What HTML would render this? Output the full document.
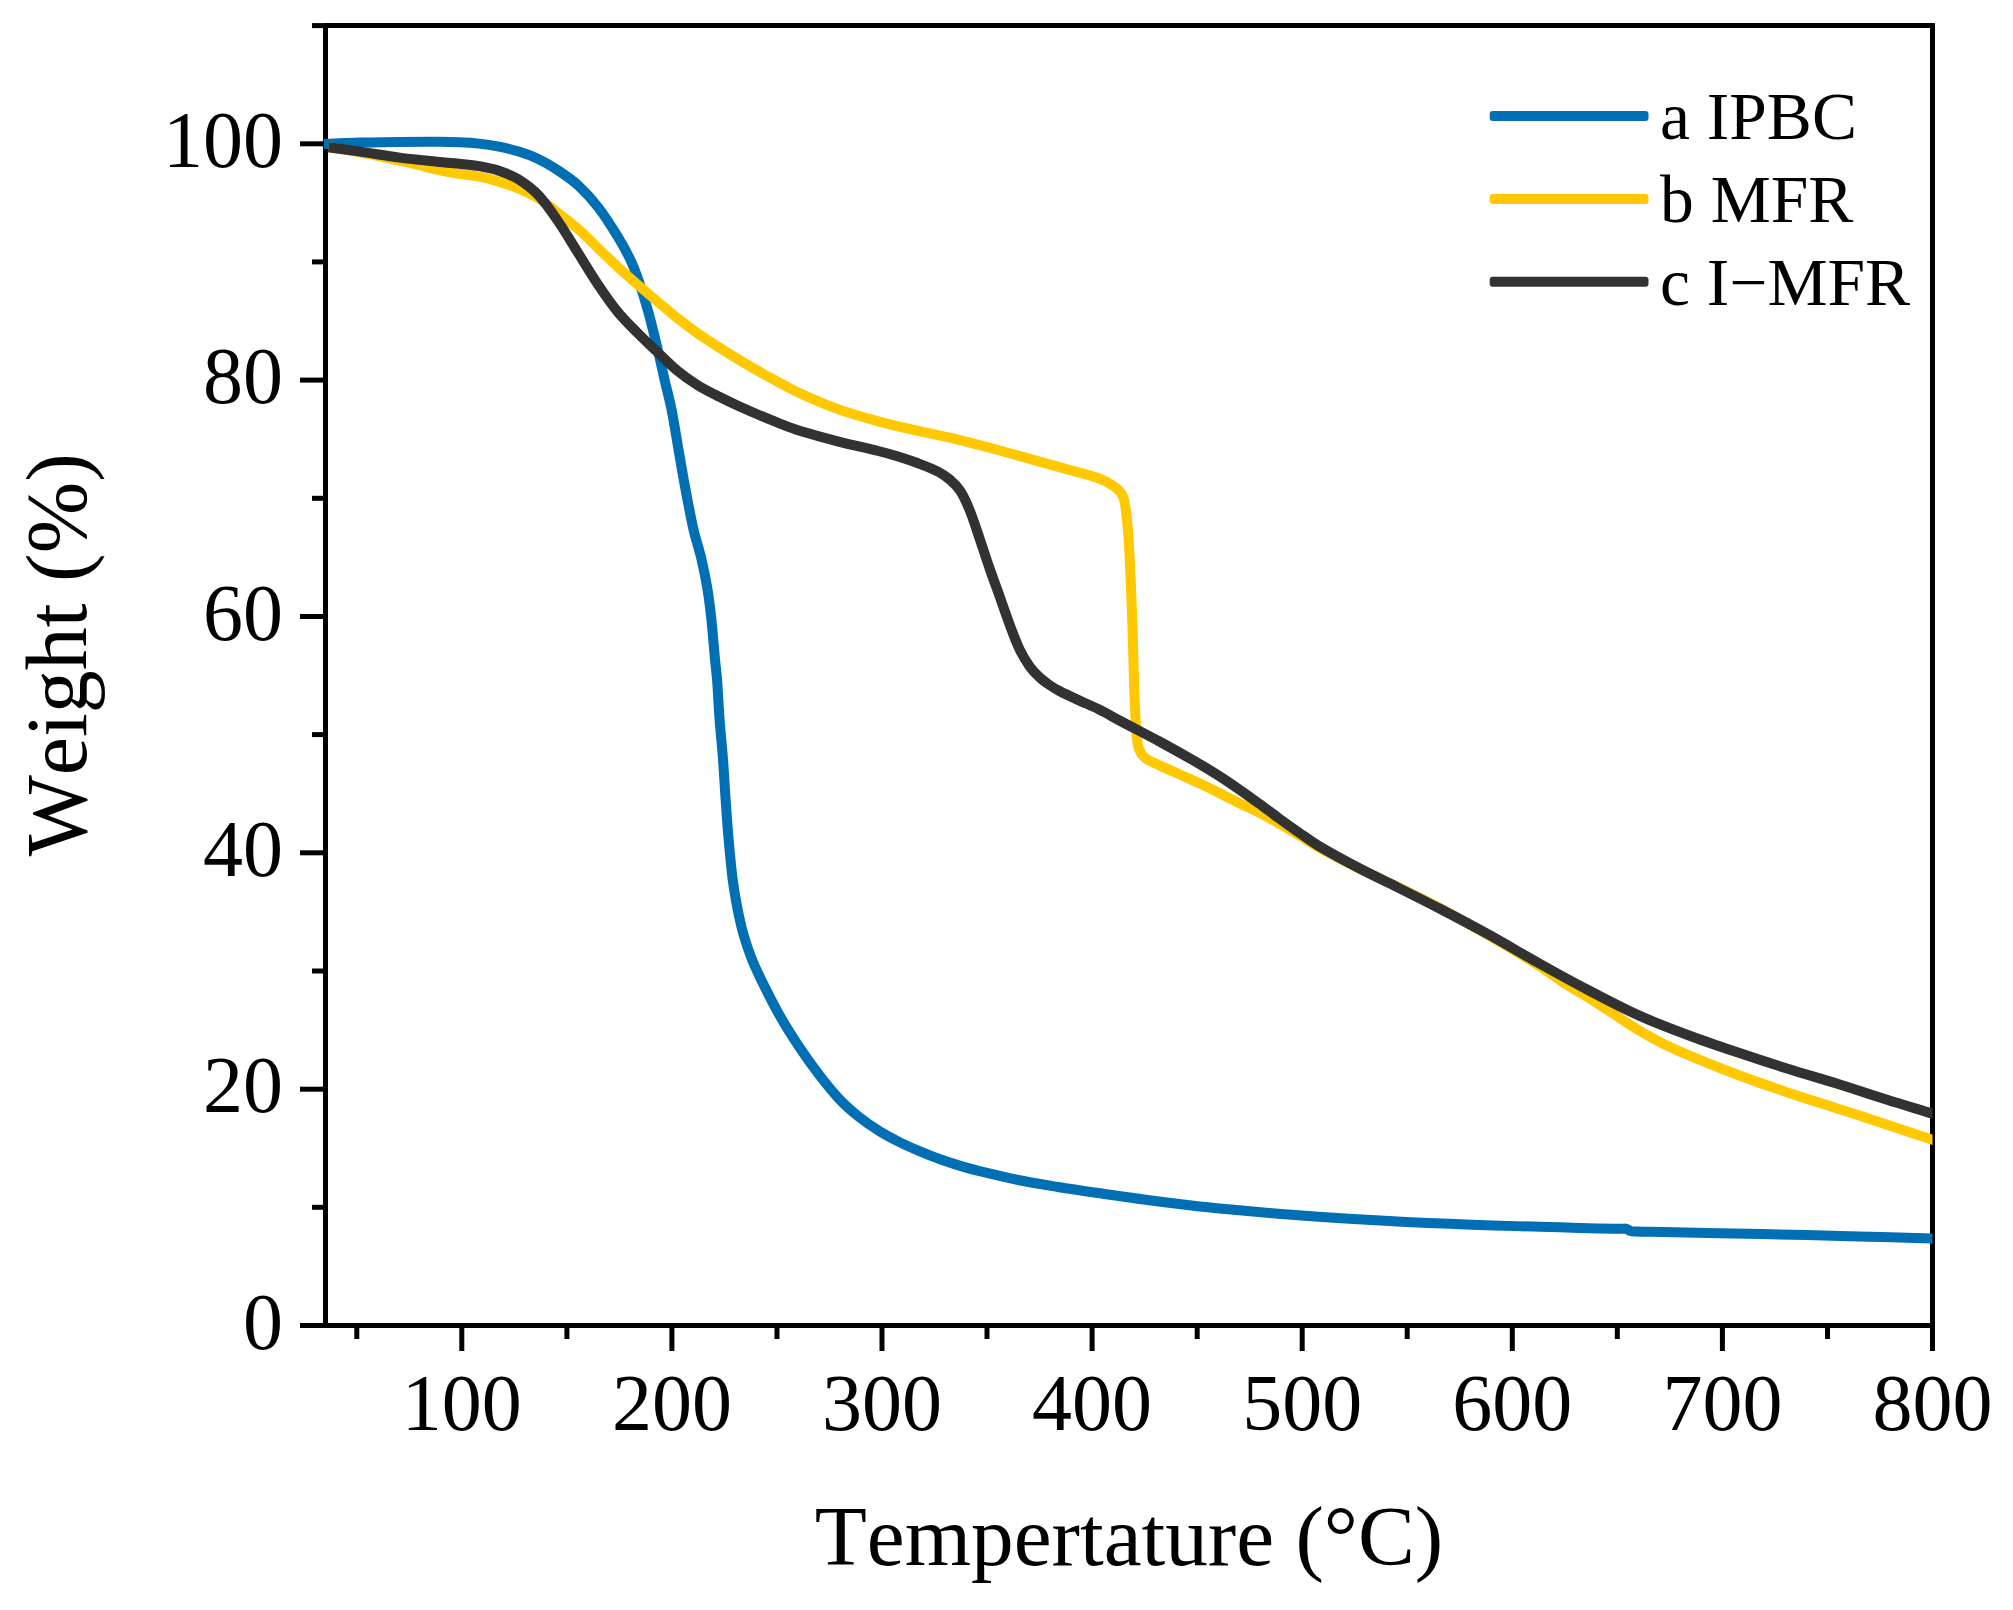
<!DOCTYPE html>
<html lang="en"><head><meta charset="utf-8"><title>TGA curves</title>
<style>
html,body{margin:0;padding:0;background:#fff;}
body{width:2013px;height:1610px;overflow:hidden;}
svg{display:block;}
text{font-family:"Liberation Serif","Times New Roman",Times,serif;fill:#000;font-kerning:none;font-variant-ligatures:none;}
.tk{font-size:80px;}
.ttx{font-size:85.3px;}
.tty{font-size:85.9px;}
.lg{font-size:67.5px;}
</style></head><body>
<svg width="2013" height="1610" viewBox="0 0 2013 1610">
<rect x="0" y="0" width="2013" height="1610" fill="#fff"/>
<g stroke="#000" stroke-width="5.0" fill="none" stroke-linecap="butt">
<line x1="325.5" y1="23.1" x2="325.5" y2="1328.0"/>
<line x1="1932.5" y1="23.1" x2="1932.5" y2="1328.0"/>
<line x1="325.5" y1="25.6" x2="1935.0" y2="25.6"/>
<line x1="325.5" y1="1325.5" x2="1935.0" y2="1325.5"/>
</g>
<g stroke="#000" stroke-width="5.0" fill="none" stroke-linecap="butt">
<line x1="300.0" y1="1325.5" x2="325.5" y2="1325.5"/>
<line x1="312.0" y1="1207.3" x2="325.5" y2="1207.3"/>
<line x1="300.0" y1="1089.2" x2="325.5" y2="1089.2"/>
<line x1="312.0" y1="971.0" x2="325.5" y2="971.0"/>
<line x1="300.0" y1="852.8" x2="325.5" y2="852.8"/>
<line x1="312.0" y1="734.6" x2="325.5" y2="734.6"/>
<line x1="300.0" y1="616.5" x2="325.5" y2="616.5"/>
<line x1="312.0" y1="498.3" x2="325.5" y2="498.3"/>
<line x1="300.0" y1="380.1" x2="325.5" y2="380.1"/>
<line x1="312.0" y1="261.9" x2="325.5" y2="261.9"/>
<line x1="300.0" y1="143.8" x2="325.5" y2="143.8"/>
<line x1="312.0" y1="25.6" x2="325.5" y2="25.6"/>
<line x1="356.8" y1="1325.5" x2="356.8" y2="1339.0"/>
<line x1="461.8" y1="1325.5" x2="461.8" y2="1351.0"/>
<line x1="566.9" y1="1325.5" x2="566.9" y2="1339.0"/>
<line x1="671.9" y1="1325.5" x2="671.9" y2="1351.0"/>
<line x1="777.0" y1="1325.5" x2="777.0" y2="1339.0"/>
<line x1="882.0" y1="1325.5" x2="882.0" y2="1351.0"/>
<line x1="987.0" y1="1325.5" x2="987.0" y2="1339.0"/>
<line x1="1092.1" y1="1325.5" x2="1092.1" y2="1351.0"/>
<line x1="1197.2" y1="1325.5" x2="1197.2" y2="1339.0"/>
<line x1="1302.2" y1="1325.5" x2="1302.2" y2="1351.0"/>
<line x1="1407.2" y1="1325.5" x2="1407.2" y2="1339.0"/>
<line x1="1512.3" y1="1325.5" x2="1512.3" y2="1351.0"/>
<line x1="1617.3" y1="1325.5" x2="1617.3" y2="1339.0"/>
<line x1="1722.4" y1="1325.5" x2="1722.4" y2="1351.0"/>
<line x1="1827.5" y1="1325.5" x2="1827.5" y2="1339.0"/>
<line x1="1932.5" y1="1325.5" x2="1932.5" y2="1351.0"/>
</g>
<defs><clipPath id="plotclip"><rect x="324.0" y="25.6" width="1608.5" height="1299.9"/></clipPath></defs>
<g fill="none" stroke-width="10.0" stroke-linejoin="round" stroke-linecap="butt" clip-path="url(#plotclip)">
<path stroke="#006FB3" d="M318.0 144.4C320.2 144.3 322.3 144.2 324.5 144.1C331.3 143.8 338.2 143.4 345.0 143.1C349.9 142.9 354.9 142.7 359.8 142.6C373.0 142.3 386.3 142.0 399.5 141.9C412.8 141.8 426.0 141.7 439.3 141.8C445.9 141.8 452.6 141.9 459.2 142.2C465.8 142.5 472.4 142.9 479.0 143.6C485.7 144.3 492.3 145.3 498.9 146.6C505.6 147.9 512.3 149.5 518.8 151.6C525.6 153.7 532.3 156.1 538.7 159.2C545.6 162.5 552.2 166.5 558.6 170.7C565.5 175.3 572.5 180.0 578.5 185.6C585.7 192.3 592.3 199.7 598.3 207.5C605.6 216.9 611.9 227.1 618.2 237.3C622.5 244.4 626.5 251.7 630.1 259.2C633.2 265.6 635.8 272.3 638.1 279.0C641.7 289.5 645.0 300.2 648.0 310.9C651.7 324.0 654.8 337.3 658.0 350.6C660.3 360.4 662.4 370.2 664.6 380.0C666.9 389.9 669.6 399.8 671.6 409.8C674.2 423.0 676.2 436.3 678.5 449.6C680.8 462.8 683.0 476.1 685.5 489.3C688.0 502.6 690.4 515.9 693.4 529.1C695.7 539.1 699.0 548.9 701.4 558.9C703.7 568.8 705.7 578.7 707.4 588.7C709.0 598.6 710.2 608.6 711.3 618.6C712.7 631.8 713.7 645.1 714.9 658.3C715.6 665.5 716.5 672.8 717.1 680.0C718.1 693.3 718.6 706.5 719.6 719.8C720.6 733.0 722.0 746.3 723.0 759.5C724.0 772.8 724.7 786.0 725.6 799.3C726.5 812.5 727.4 825.8 728.6 839.0C729.8 852.3 730.9 865.6 732.6 878.8C733.9 888.8 735.6 898.7 737.5 908.6C739.2 917.3 741.1 926.0 743.5 934.5C745.8 942.5 748.5 950.5 751.5 958.3C754.4 965.8 757.9 973.0 761.4 980.2C767.3 992.2 773.2 1004.1 779.8 1015.7C786.0 1026.6 792.7 1037.1 799.6 1047.5C805.9 1057.0 812.6 1066.3 819.5 1075.3C825.8 1083.5 832.3 1091.7 839.4 1099.2C845.5 1105.6 852.3 1111.5 859.3 1117.1C865.6 1122.1 872.3 1126.7 879.2 1131.0C885.6 1135.0 892.3 1138.5 899.0 1141.9C905.5 1145.2 912.2 1148.1 918.9 1150.9C925.5 1153.7 932.1 1156.4 938.8 1158.8C945.4 1161.2 952.0 1163.4 958.7 1165.4C965.3 1167.4 971.9 1169.3 978.6 1170.9C991.8 1174.1 1005.0 1177.3 1018.3 1180.0C1031.5 1182.7 1044.8 1184.8 1058.1 1187.0C1071.3 1189.2 1084.6 1191.1 1097.9 1193.0C1113.2 1195.2 1128.4 1197.5 1143.7 1199.5C1158.3 1201.5 1172.8 1203.3 1187.4 1205.0C1201.9 1206.7 1216.5 1208.2 1231.1 1209.6C1245.7 1211.0 1260.3 1212.3 1274.9 1213.5C1289.5 1214.7 1304.0 1215.8 1318.6 1216.8C1333.2 1217.8 1347.7 1218.7 1362.3 1219.6C1376.9 1220.4 1391.4 1221.2 1406.0 1221.9C1420.6 1222.6 1435.1 1223.2 1449.7 1223.8C1464.3 1224.4 1478.8 1224.9 1493.4 1225.4C1508.9 1225.9 1524.5 1226.4 1540.0 1226.8C1553.3 1227.2 1566.7 1227.5 1580.0 1227.9C1591.7 1228.2 1603.3 1228.6 1615.0 1228.8C1617.7 1228.9 1620.3 1228.8 1623.0 1228.8C1624.2 1228.8 1625.4 1228.4 1626.5 1228.7C1627.9 1229.1 1629.1 1230.6 1630.5 1231.0C1632.2 1231.5 1634.2 1231.4 1636.0 1231.5C1640.7 1231.7 1645.3 1231.7 1650.0 1231.8C1658.3 1232.0 1666.6 1232.1 1674.9 1232.3C1704.0 1232.9 1733.2 1233.4 1762.3 1234.0C1791.4 1234.7 1820.6 1235.4 1849.7 1236.2C1877.1 1236.9 1904.6 1237.7 1932.0 1238.4C1935.3 1238.5 1938.7 1238.6 1942.0 1238.7"/>
<path stroke="#FFC800" d="M328.5 147.3C338.9 149.0 349.4 150.4 359.8 152.3C373.1 154.8 386.3 157.7 399.5 160.6C406.2 162.0 412.8 163.6 419.4 165.2C426.0 166.8 432.6 168.6 439.3 170.0C445.9 171.4 452.5 172.6 459.2 173.7C465.8 174.8 472.5 175.4 479.0 176.7C485.7 178.0 492.4 179.6 498.9 181.6C505.6 183.6 512.3 185.9 518.8 188.6C525.6 191.5 532.4 194.6 538.7 198.5C545.7 202.9 552.0 208.3 558.6 213.4C565.3 218.6 572.1 223.7 578.5 229.3C585.4 235.4 591.7 242.1 598.3 248.5C604.9 254.8 611.5 261.1 618.2 267.3C624.7 273.3 631.4 279.2 638.1 285.0C644.7 290.7 651.3 296.4 658.0 302.0C664.6 307.5 671.1 313.2 677.9 318.5C684.4 323.6 691.0 328.6 697.7 333.3C705.0 338.4 712.5 343.2 720.0 348.0C728.3 353.3 736.6 358.4 745.0 363.4C753.6 368.5 762.3 373.4 771.0 378.2C780.2 383.2 789.3 388.4 798.8 392.8C811.8 398.8 825.1 404.6 838.6 409.4C851.6 414.1 865.0 417.7 878.3 421.3C891.5 424.9 904.8 427.9 918.1 430.9C931.3 434.0 944.7 436.4 957.9 439.6C971.9 443.0 985.9 446.7 999.8 450.5C1013.1 454.1 1026.3 457.9 1039.5 461.6C1052.8 465.3 1066.1 468.9 1079.3 472.6C1086.0 474.5 1092.7 476.1 1099.2 478.5C1103.3 480.1 1107.3 482.2 1111.1 484.5C1113.9 486.2 1116.8 488.1 1119.0 490.5C1120.9 492.4 1122.5 494.9 1123.4 497.4C1124.9 501.8 1125.4 506.6 1126.0 511.3C1127.2 520.6 1128.0 529.9 1128.6 539.2C1129.5 552.4 1130.0 565.7 1130.6 578.9C1131.2 592.2 1131.7 605.4 1132.2 618.7C1132.7 631.9 1133.0 645.2 1133.4 658.4C1133.8 671.7 1134.0 684.9 1134.6 698.2C1135.1 710.6 1135.6 723.1 1136.7 735.5C1137.1 740.2 1137.5 745.2 1139.2 749.5C1140.5 752.8 1142.8 756.2 1145.6 758.4C1149.6 761.5 1154.8 763.2 1159.5 765.4C1166.1 768.5 1172.8 771.3 1179.4 774.3C1186.0 777.3 1192.7 780.2 1199.3 783.3C1206.0 786.4 1212.6 789.7 1219.2 793.0C1225.8 796.3 1232.4 799.7 1239.0 803.0C1245.6 806.2 1252.4 809.2 1258.9 812.5C1265.6 815.9 1272.2 819.6 1278.8 823.3C1285.5 827.1 1292.1 831.0 1298.7 835.0C1305.4 839.0 1311.8 843.5 1318.6 847.3C1331.6 854.5 1345.0 861.3 1358.3 868.0C1371.5 874.6 1384.9 880.5 1398.1 887.0C1412.1 893.9 1426.2 900.8 1440.0 908.2C1456.7 917.2 1473.3 926.5 1489.7 936.0C1506.4 945.7 1523.1 955.7 1539.4 966.0C1547.9 971.4 1555.8 977.7 1564.2 983.1C1572.3 988.3 1580.8 992.9 1589.0 998.0C1597.4 1003.2 1605.6 1008.7 1613.9 1014.1C1622.2 1019.5 1630.2 1025.2 1638.7 1030.3C1646.8 1035.2 1655.1 1039.7 1663.6 1043.9C1671.7 1047.9 1680.0 1051.6 1688.4 1055.1C1704.9 1062.0 1721.4 1068.7 1738.1 1075.0C1754.5 1081.2 1771.1 1086.8 1787.7 1092.4C1804.2 1098.0 1820.8 1103.1 1837.4 1108.5C1854.0 1113.9 1870.5 1119.3 1887.1 1124.7C1902.1 1129.6 1917.0 1134.6 1932.0 1139.6C1935.3 1140.7 1938.7 1141.8 1942.0 1142.9"/>
<path stroke="#323232" d="M328.5 147.3C338.9 148.7 349.4 150.1 359.8 151.6C373.0 153.5 386.2 155.8 399.5 157.6C406.1 158.5 412.8 159.2 419.4 159.9C426.0 160.6 432.7 161.4 439.3 162.0C445.9 162.6 452.6 163.0 459.2 163.7C465.8 164.4 472.5 164.9 479.0 166.1C485.7 167.3 492.5 168.5 498.9 170.7C505.7 173.0 512.7 175.8 518.8 179.6C525.9 184.1 532.9 189.4 538.7 195.5C546.2 203.5 552.4 212.9 558.6 222.0C565.6 232.3 571.9 243.1 578.5 253.6C585.1 264.1 591.4 274.7 598.3 285.0C604.6 294.4 611.0 303.8 618.2 312.5C624.3 319.9 631.3 326.6 638.1 333.5C644.6 340.0 651.3 346.4 658.0 352.7C664.6 358.9 670.9 365.5 677.9 371.2C684.1 376.3 690.8 381.0 697.7 385.2C704.6 389.5 712.0 393.1 719.3 396.8C725.8 400.1 732.4 403.3 739.0 406.3C745.6 409.3 752.3 412.2 759.0 415.0C766.0 417.9 773.0 420.9 780.0 423.6C786.2 426.0 792.4 428.5 798.8 430.5C812.0 434.5 825.3 438.2 838.6 441.6C851.8 445.0 865.1 447.7 878.3 451.0C885.0 452.7 891.6 454.5 898.2 456.5C904.9 458.6 911.5 460.8 918.1 463.3C924.8 465.8 931.6 468.3 938.0 471.6C942.2 473.8 946.3 476.5 949.9 479.6C953.6 482.8 957.3 486.5 960.0 490.6C963.9 496.6 966.9 503.3 969.6 510.0C973.4 519.4 976.4 529.2 979.7 538.8C983.1 548.8 986.3 559.0 989.8 569.0C993.0 578.3 996.5 587.5 999.8 596.8C1003.1 606.1 1006.2 615.5 1009.7 624.7C1012.8 633.0 1015.8 641.3 1019.6 649.3C1022.4 655.2 1025.8 661.0 1029.6 666.4C1032.4 670.4 1035.9 674.0 1039.5 677.3C1042.6 680.2 1046.0 682.6 1049.5 685.0C1052.7 687.2 1056.0 689.2 1059.4 691.0C1066.0 694.4 1072.8 697.5 1079.5 700.6C1086.0 703.6 1092.8 706.3 1099.2 709.5C1106.1 712.9 1112.7 716.9 1119.5 720.5C1132.8 727.6 1146.3 734.3 1159.5 741.5C1172.9 748.8 1186.1 756.2 1199.3 763.8C1206.0 767.7 1212.7 771.8 1219.2 776.0C1225.9 780.3 1232.5 784.8 1239.0 789.3C1245.7 793.9 1252.3 798.7 1258.9 803.5C1265.6 808.3 1272.1 813.4 1278.8 818.2C1285.4 823.0 1292.0 827.7 1298.7 832.3C1305.3 836.9 1311.7 841.8 1318.6 845.9C1331.6 853.6 1344.9 860.8 1358.3 867.8C1371.4 874.7 1384.9 881.0 1398.1 887.6C1412.1 894.6 1426.1 901.6 1440.0 908.8C1456.6 917.4 1473.3 926.2 1489.7 935.2C1506.4 944.4 1522.7 954.2 1539.4 963.5C1555.8 972.7 1572.3 981.8 1589.0 990.5C1605.4 999.1 1621.8 1007.8 1638.7 1015.4C1654.9 1022.7 1671.7 1029.0 1688.4 1035.2C1704.8 1041.4 1721.5 1047.0 1738.1 1052.6C1754.6 1058.2 1771.1 1063.6 1787.7 1068.8C1804.2 1074.0 1820.9 1078.6 1837.4 1083.7C1854.0 1088.9 1870.5 1094.6 1887.1 1099.8C1902.0 1104.5 1917.0 1108.9 1932.0 1113.5C1935.3 1114.5 1938.7 1115.5 1942.0 1116.6"/>
</g>
<g class="tk" text-anchor="end">
<text x="283.1" y="1348.5">0</text>
<text x="283.1" y="1112.2">20</text>
<text x="283.1" y="875.8">40</text>
<text x="283.1" y="639.5">60</text>
<text x="283.1" y="403.1">80</text>
<text x="283.1" y="166.8">100</text>
</g>
<g class="tk" text-anchor="middle">
<text x="461.8" y="1430.0">100</text>
<text x="671.9" y="1430.0">200</text>
<text x="882.0" y="1430.0">300</text>
<text x="1092.1" y="1430.0">400</text>
<text x="1302.2" y="1430.0">500</text>
<text x="1512.3" y="1430.0">600</text>
<text x="1722.4" y="1430.0">700</text>
<text x="1932.5" y="1430.0">800</text>
</g>
<text class="ttx" text-anchor="middle" x="1129.0" y="1564.5">Tempertature (°C)</text>
<text class="tty" text-anchor="middle" transform="translate(86.0 654.7) rotate(-90)">Weight (%)</text>
<g stroke="none">
<rect fill="#006FB3" x="1489.7" y="110.9" width="158.8" height="10.0" rx="3" ry="3"/>
<rect fill="#FFC800" x="1489.7" y="194.1" width="158.8" height="10.0" rx="3" ry="3"/>
<rect fill="#323232" x="1489.7" y="276.8" width="158.8" height="10.0" rx="3" ry="3"/>
</g>
<g class="lg">
<text x="1660.0" y="139.0">a IPBC</text>
<text x="1660.0" y="222.0">b MFR</text>
<text x="1660.0" y="304.7">c I−MFR</text>
</g>
</svg></body></html>
